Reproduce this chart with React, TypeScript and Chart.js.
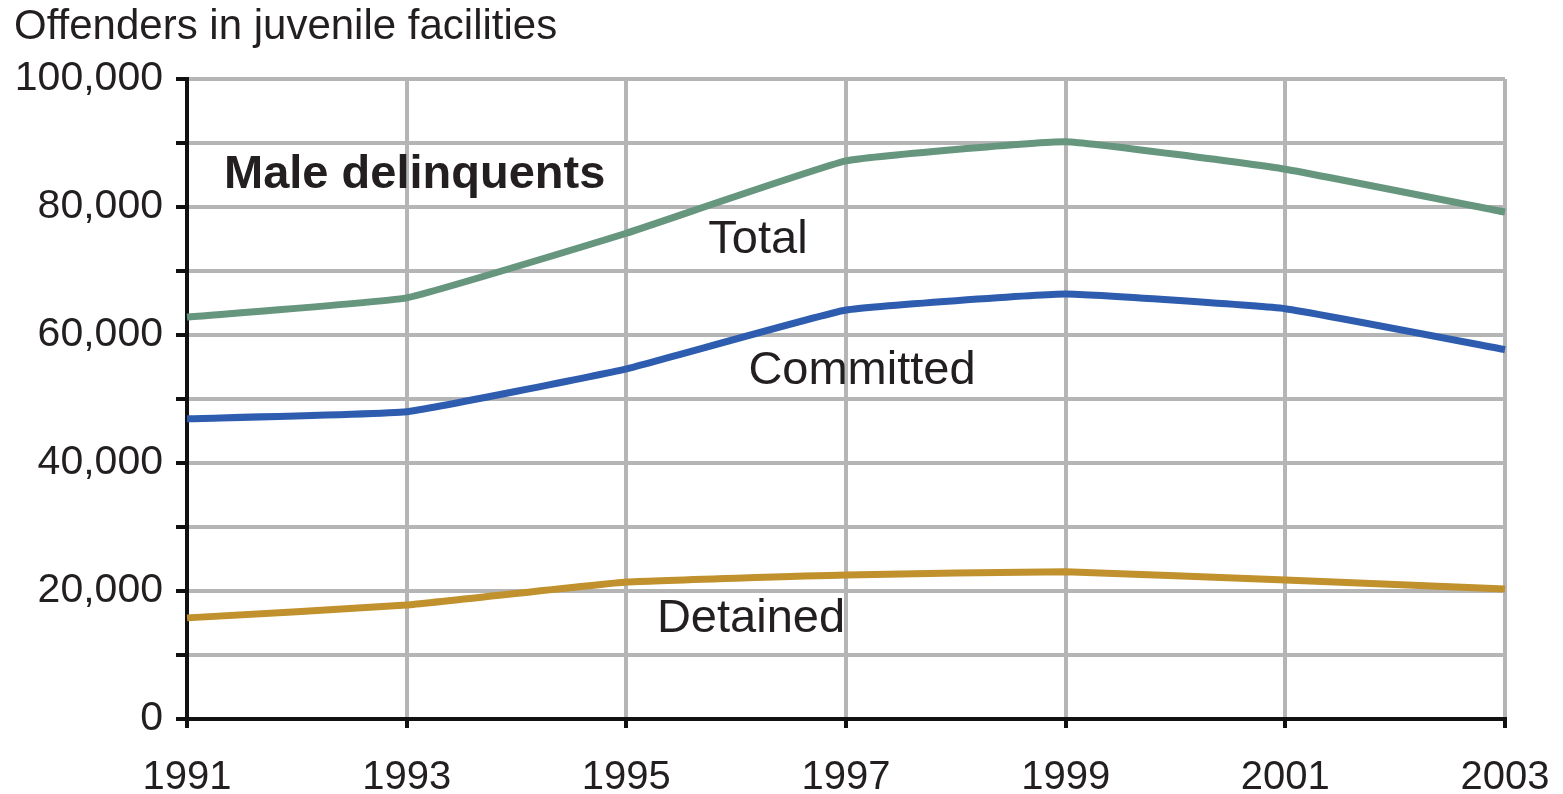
import React, { useEffect, useRef } from "react";
import { Chart, registerables } from "chart.js";

Chart.register(...registerables);

const years = ["1991", "1993", "1995", "1997", "1999", "2001", "2003"];
const totalValues = [62800, 65800, 75900, 87200, 90200, 85900, 79200];
const committedValues = [46900, 48000, 54700, 63900, 66400, 64100, 57700];
const detainedValues = [15800, 17800, 21400, 22500, 23000, 21700, 20300];
const yTickStep = 10000;
const yMax = 100000;

const FONT = "'Liberation Sans', Arial, Helvetica, sans-serif";

const annotations = {
  id: "annotations",
  afterDraw(chart: any) {
    const ctx = chart.ctx;
    ctx.save();
    ctx.fillStyle = "#231f20";
    ctx.textBaseline = "middle";
    ctx.textAlign = "left";
    ctx.font = `42px ${FONT}`;
    ctx.fillText("Offenders in juvenile facilities", 14, 27);
    ctx.font = `bold 47px ${FONT}`;
    ctx.fillText("Male delinquents", 224, 175);
    ctx.font = `47px ${FONT}`;
    ctx.textAlign = "center";
    ctx.fillText("Total", 758, 240);
    ctx.fillText("Committed", 862, 371);
    ctx.fillText("Detained", 751, 619);
    ctx.restore();
  },
};

export default function App() {
  const ref = useRef<HTMLCanvasElement>(null);
  useEffect(() => {
    document.body.style.margin = "0";
    const chart = new Chart(ref.current!, {
      type: "line",
      data: {
        labels: years,
        datasets: [
          { label: "Total", data: totalValues, borderColor: "#67967f", borderWidth: 7, pointRadius: 0, tension: 0.1, fill: false },
          { label: "Committed", data: committedValues, borderColor: "#2e5db0", borderWidth: 7, pointRadius: 0, tension: 0.1, fill: false },
          { label: "Detained", data: detainedValues, borderColor: "#c0912c", borderWidth: 7, pointRadius: 0, tension: 0.1, fill: false },
        ],
      },
      options: {
        animation: false,
        responsive: false,
        maintainAspectRatio: false,
        layout: { padding: { top: 79, right: 58, left: 0, bottom: 0 } },
        plugins: { legend: { display: false }, tooltip: { enabled: false }, title: { display: false } },
        scales: {
          x: {
            offset: false,
            grid: { color: "#b5b5b5", lineWidth: 4, tickColor: "#111", tickLength: 9, drawTicks: true },
            border: { color: "#111", width: 4 },
            ticks: { color: "#231f20", font: { family: FONT, size: 40 }, padding: 26, maxRotation: 0, autoSkip: false },
            afterFit: (s: any) => { s.height = 75; s.paddingLeft = 0; s.paddingRight = 0; },
          },
          y: {
            min: 0,
            max: yMax,
            grid: { color: "#b5b5b5", lineWidth: 4, tickColor: "#111", tickLength: 11, drawTicks: true },
            border: { color: "#111", width: 4 },
            ticks: {
              stepSize: yTickStep,
              color: "#231f20",
              font: { family: FONT, size: 41 },
              padding: 13,
              callback: (v: any) => (Number(v) % 20000 === 0 ? Number(v).toLocaleString("en-US") : ""),
            },
            afterFit: (s: any) => { s.width = 187; s.paddingTop = 0; s.paddingBottom = 0; },
          },
        },
      },
      plugins: [annotations],
    });
    return () => chart.destroy();
  }, []);
  return (
    <div style={{ width: 1563, height: 794, background: "#fff" }}>
      <canvas ref={ref} width={1563} height={794} style={{ display: "block" }} />
    </div>
  );
}
